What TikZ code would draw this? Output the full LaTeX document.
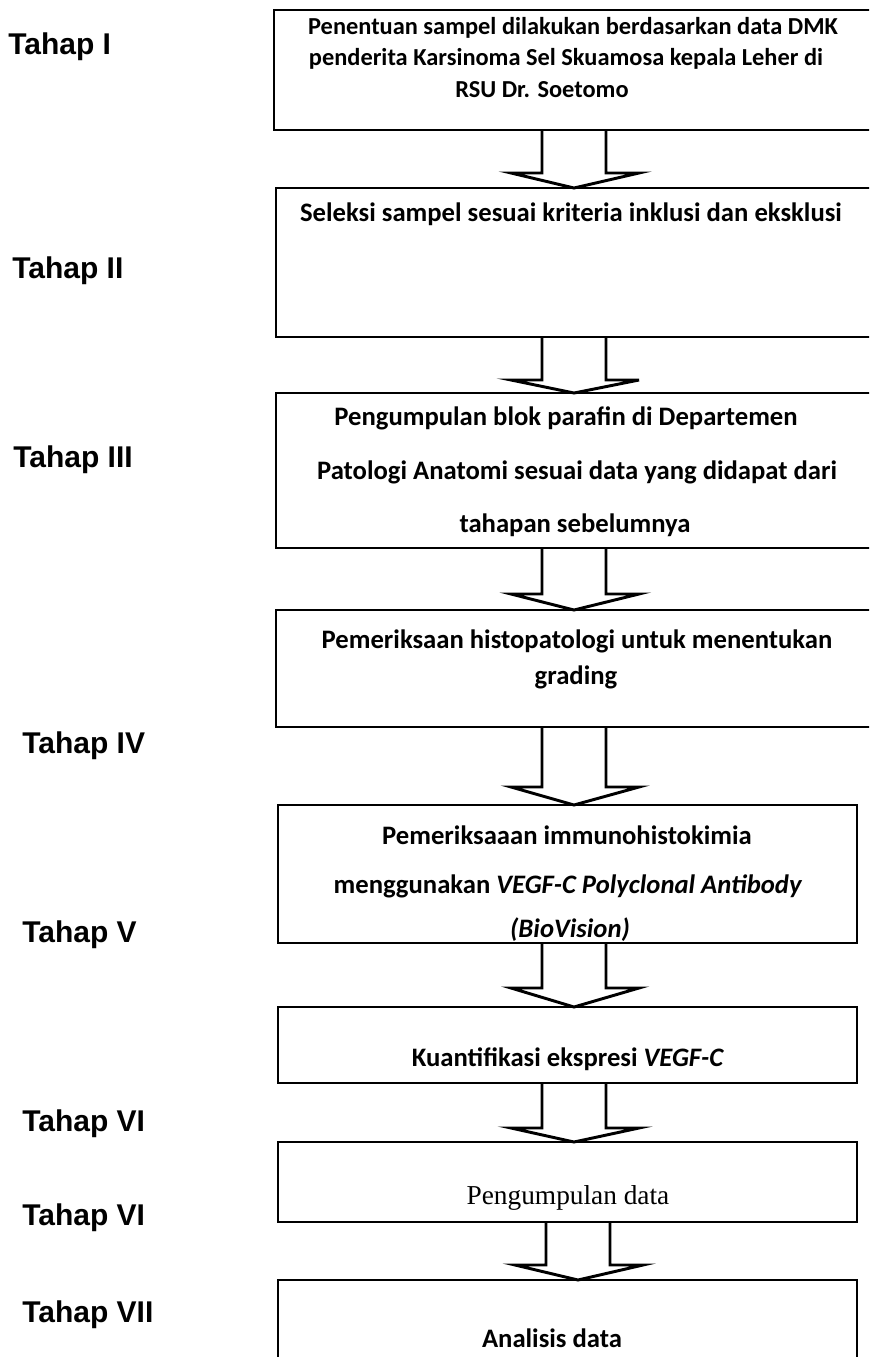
\documentclass[tikz,border=0pt]{standalone}
\usepackage{fontspec}
\setmainfont{Carlito}
\newfontfamily\lblfont{Liberation Sans}
\newfontfamily\serfont{Liberation Serif}
\usetikzlibrary{calc}
\newcommand{\blockarr}[4]{%
  \draw[arrline] ($(#1.south -| #4)+(-32,0)$)
    -- ($(#2.north -| #4)+(-32,-#3)$)
    -- ($(#2.north -| #4)+(-63,-#3)$)
    -- (#2.north -| #4)
    -- ($(#2.north -| #4)+(65,-#3)$)
    -- ($(#2.north -| #4)+(32,-#3)$)
    -- ($(#1.south -| #4)+(32,0)$);}
\begin{document}
\begin{tikzpicture}[x=0.75pt,y=-0.75pt,
  box/.style={draw=black,line width=2.2pt,inner sep=0pt,outer sep=0pt,anchor=north west},
  arrline/.style={draw=black,line width=2.2pt,line join=miter},
  txt/.style={inner sep=0pt,anchor=base,font=\bfseries\fontsize{20}{24}\selectfont},
  txtsm/.style={inner sep=0pt,anchor=base,font=\bfseries\fontsize{18.3}{22}\selectfont},
  sertxt/.style={inner sep=0pt,anchor=base,font=\serfont\fontsize{20.5}{24}\selectfont},
  lbl/.style={inner sep=0pt,anchor=west,font=\lblfont\bfseries\fontsize{22.5}{27}\selectfont}]
\clip (0,0) rectangle (869,1357);
\fill[white] (0,0) rectangle (869,1357);
\coordinate (axA) at (574,0);
\coordinate (axB) at (578,0);
% boxes
\node[box,minimum width=454.5pt,minimum height=90pt] (b1) at (274,10) {};
\node[box,minimum width=453pt,minimum height=111.75pt] (b2) at (276,188) {};
\node[box,minimum width=453pt,minimum height=116.25pt] (b3) at (276,393) {};
\node[box,minimum width=453pt,minimum height=87.75pt] (b4) at (276,610) {};
\node[box,minimum width=434.25pt,minimum height=103.5pt] (b5) at (278,805) {};
\node[box,minimum width=434.25pt,minimum height=57pt] (b6) at (278,1007) {};
\node[box,minimum width=434.25pt,minimum height=60pt] (b7) at (278,1142) {};
\node[box,minimum width=434.25pt,minimum height=75pt] (b8) at (278,1280) {};
% box texts
\node[txtsm] (t1a) at (573,34) {Penentuan sampel dilakukan berdasarkan data DMK};
\node[txtsm] (t1b) at (566,65) {penderita Karsinoma Sel Skuamosa kepala Leher di};
\node[txtsm] (t1c) at (542,97) {RSU Dr. Soetomo};
\node[txt] (t2) at (571,221) {Seleksi sampel sesuai kriteria inklusi dan eksklusi};
\node[txt] (t3a) at (566,425) {Pengumpulan blok parafin di Departemen};
\node[txt] (t3b) at (577,479) {Patologi Anatomi sesuai data yang didapat dari};
\node[txt] (t3c) at (575,532) {tahapan sebelumnya};
\node[txt] (t4a) at (577,648) {Pemeriksaan histopatologi untuk menentukan};
\node[txt] (t4b) at (576,684) {grading};
\node[txt] (t5a) at (567,844) {Pemeriksaaan immunohistokimia};
\node[txt] (t5b) at (568,893) {menggunakan \textit{VEGF-C Polyclonal Antibody}};
\node[txt] (t5c) at (570,937) {\textit{(BioVision)}};
\node[txt] (t6) at (568,1066) {Kuantifikasi ekspresi \textit{VEGF-C}};
\node[sertxt] (t7) at (568,1204) {Pengumpulan data};
\node[txt] (t8) at (552,1347) {Analisis data};
% arrows
\blockarr{b1}{b2}{15}{axA}
\blockarr{b2}{b3}{13}{axA}
\blockarr{b3}{b4}{16}{axA}
\blockarr{b4}{b5}{18}{axA}
\blockarr{b5}{b6}{19}{axA}
\blockarr{b6}{b7}{14}{axA}
\blockarr{b7}{b8}{15}{axB}
% stage labels
\node[lbl] (l1) at (8,47) {Tahap I};
\node[lbl] (l2) at (12,271) {Tahap II};
\node[lbl] (l3) at (13,460) {Tahap III};
\node[lbl] (l4) at (22,746) {Tahap IV};
\node[lbl] (l5) at (22,935) {Tahap V};
\node[lbl] (l6) at (22,1124) {Tahap VI};
\node[lbl] (l7) at (22,1218) {Tahap VI};
\node[lbl] (l8) at (22,1315) {Tahap VII};
\end{tikzpicture}
\end{document}
